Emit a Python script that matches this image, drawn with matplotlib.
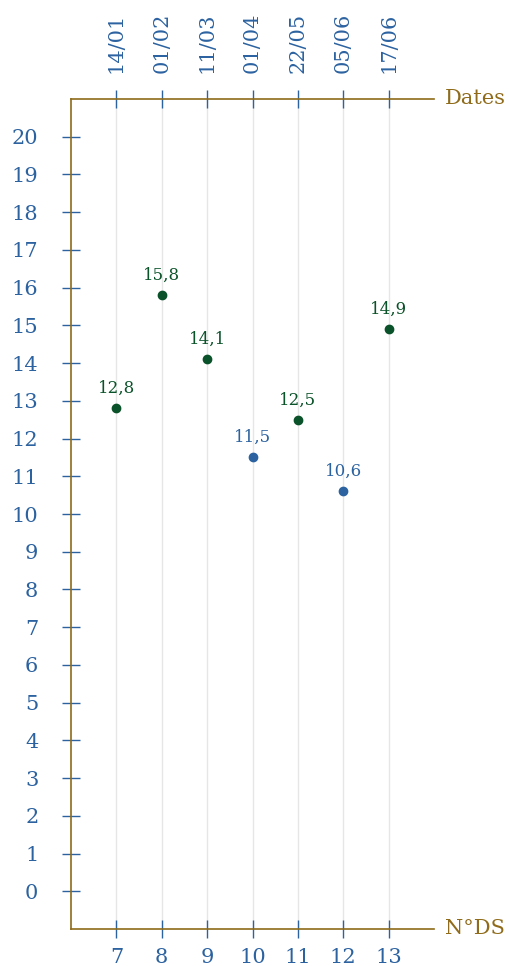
import matplotlib
matplotlib.use("Agg")
import matplotlib.pyplot as plt

ds_numbers = [7, 8, 9, 10, 11, 12, 13]
dates = ["14/01", "01/02", "11/03", "01/04", "22/05", "05/06", "17/06"]
grades = [12.8, 15.8, 14.1, 11.5, 12.5, 10.6, 14.9]
y_ticks = list(range(0, 21))

BLUE = "#2c62a0"
GREEN = "#0a5229"
GOLD = "#8f6b1a"
GRID = "#e6e6e6"

plt.rcParams['font.family'] = ['DejaVu Serif']

fig = plt.figure(figsize=(5.10, 9.66), dpi=100)
ax = fig.add_axes([71/510, 37/966, (434-71)/510, (929-99)/966])

ax.set_xlim(6, 14)
ax.set_ylim(-1, 21)

for x in ds_numbers:
    ax.axvline(x, color=GRID, lw=1.0, zorder=0)

for x, y in zip(ds_numbers, grades):
    c = GREEN if y >= 12 else BLUE
    ax.plot(x, y, 'o', color=c, markersize=6, zorder=3)
    ax.annotate(f"{y:.1f}".replace(".", ","), (x, y), xytext=(0, 8),
                textcoords="offset points", ha="center", va="bottom",
                color=c, fontsize=12)

ax.spines["right"].set_visible(False)
for s in ["left", "bottom", "top"]:
    ax.spines[s].set_color(GOLD)
    ax.spines[s].set_linewidth(1.2)

ax.set_xticks(ds_numbers)
ax.set_xticklabels([str(n) for n in ds_numbers])
ax.set_yticks(y_ticks)
ax.set_yticklabels([str(v) for v in y_ticks])
ax.tick_params(axis='x', direction='inout', length=13, width=1, color=BLUE,
               labelcolor=BLUE, labelsize=15, pad=7)
ax.tick_params(axis='y', direction='inout', length=13, width=1, color=BLUE,
               labelcolor=BLUE, labelsize=15, pad=17)

sec = ax.secondary_xaxis('top')
sec.set_xticks(ds_numbers)
sec.set_xticklabels(dates, rotation=90)
sec.spines['top'].set_visible(False)
sec.tick_params(direction='inout', length=13, width=1, color=BLUE,
                labelcolor=BLUE, labelsize=15, pad=12)

fig.text(445/510, 1 - 99/966, "Dates", color=GOLD, fontsize=15,
         ha="left", va="center")
fig.text(445/510, 1 - 929/966, "N°DS", color=GOLD, fontsize=15,
         ha="left", va="center")

fig.savefig("out.png", dpi=100)
